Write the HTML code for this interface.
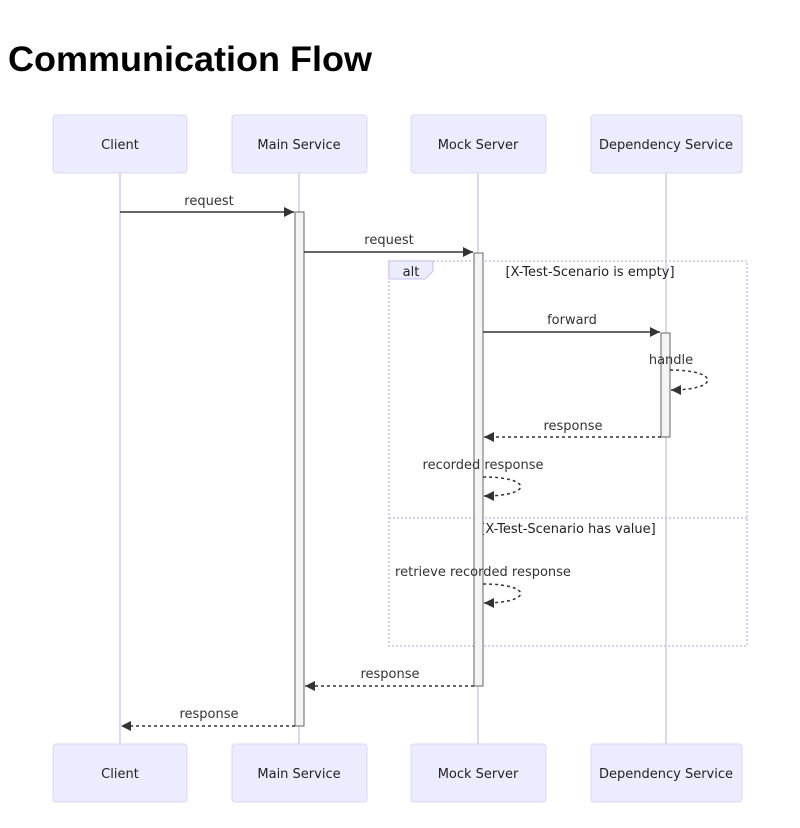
<!DOCTYPE html>
<html><head><meta charset="utf-8"><style>
body{margin:0;background:#fff;}
svg{display:block;}
.t{font-family:"DejaVu Sans","Liberation Sans",sans-serif;font-size:13px;fill:#333;}
.a{font-family:"DejaVu Sans","Liberation Sans",sans-serif;font-size:13px;fill:#222;}
</style></head><body>
<svg width="800" height="828" xmlns="http://www.w3.org/2000/svg">
<defs>
<marker id="ar" markerWidth="12" markerHeight="12" refX="10" refY="5" orient="auto" markerUnits="userSpaceOnUse"><path d="M0,0 L10,5 L0,10 z" fill="#333"/></marker>
</defs>
<text x="8" y="71" font-family="Liberation Sans,sans-serif" font-weight="bold" font-size="35" textLength="364" lengthAdjust="spacingAndGlyphs" fill="#000">Communication Flow</text>
<g stroke="#ddd6f5" stroke-width="2">
<line x1="120" y1="173" x2="120" y2="744"/><line x1="299" y1="173" x2="299" y2="744"/><line x1="478" y1="173" x2="478" y2="744"/><line x1="666" y1="173" x2="666" y2="744"/>
</g>
<g fill="#ececff" stroke="#ddd6f5" stroke-width="1">
<rect x="53" y="115" width="134" height="58" rx="3"/><rect x="232" y="115" width="135" height="58" rx="3"/><rect x="411" y="115" width="135" height="58" rx="3"/><rect x="591" y="115" width="151" height="58" rx="3"/>
<rect x="53" y="744" width="134" height="58" rx="3"/><rect x="232" y="744" width="135" height="58" rx="3"/><rect x="411" y="744" width="135" height="58" rx="3"/><rect x="591" y="744" width="151" height="58" rx="3"/>
</g>
<g class="a" text-anchor="middle">
<text x="120" y="149">Client</text><text x="299" y="149">Main Service</text><text x="478" y="149">Mock Server</text><text x="666" y="149">Dependency Service</text>
<text x="120" y="778">Client</text><text x="299" y="778">Main Service</text><text x="478" y="778">Mock Server</text><text x="666" y="778">Dependency Service</text>
</g>
<!-- alt box -->
<g stroke="#c8c0ec" stroke-width="1.5" stroke-dasharray="2,2" fill="none">
<rect x="389" y="261" width="358" height="385"/><line x1="389" y1="518" x2="747" y2="518"/>
</g>
<path d="M389,261 H433 V271 L425,279 H389 z" fill="#ececff" stroke="#c8c0ec"/>
<text class="a" x="411" y="276" text-anchor="middle">alt</text>
<text class="a" x="590" y="276" text-anchor="middle">[X-Test-Scenario is empty]</text>
<text class="a" x="568" y="533" text-anchor="middle">[X-Test-Scenario has value]</text>
<!-- activations -->
<g fill="#f4f4f4" stroke="#666" stroke-width="1">
<rect x="295" y="212" width="9" height="514"/><rect x="474" y="253" width="9" height="433"/><rect x="661" y="333" width="9" height="104"/>
</g>
<!-- messages -->
<g stroke="#333" stroke-width="1.5" fill="none">
<line x1="120" y1="212" x2="294" y2="212" marker-end="url(#ar)"/>
<line x1="304" y1="252" x2="473" y2="252" marker-end="url(#ar)"/>
<line x1="483" y1="332" x2="660" y2="332" marker-end="url(#ar)"/>
<path d="M670,370 C720,370 720,390 671,390" stroke-dasharray="3,3" marker-end="url(#ar)"/>
<line x1="661" y1="437" x2="484" y2="437" stroke-dasharray="3,3" marker-end="url(#ar)"/>
<path d="M483,477 C533,477 533,496 484,496" stroke-dasharray="3,3" marker-end="url(#ar)"/>
<path d="M483,584 C533,584 533,603 484,603" stroke-dasharray="3,3" marker-end="url(#ar)"/>
<line x1="474" y1="686" x2="305" y2="686" stroke-dasharray="3,3" marker-end="url(#ar)"/>
<line x1="295" y1="726" x2="121" y2="726" stroke-dasharray="3,3" marker-end="url(#ar)"/>
</g>
<g class="t" text-anchor="middle">
<text x="209" y="205">request</text>
<text x="389" y="244">request</text>
<text x="572" y="324">forward</text>
<text x="671" y="364">handle</text>
<text x="573" y="430">response</text>
<text x="483" y="469">recorded response</text>
<text x="483" y="576">retrieve recorded response</text>
<text x="390" y="678">response</text>
<text x="209" y="718">response</text>
</g>
</svg>
</body></html>
